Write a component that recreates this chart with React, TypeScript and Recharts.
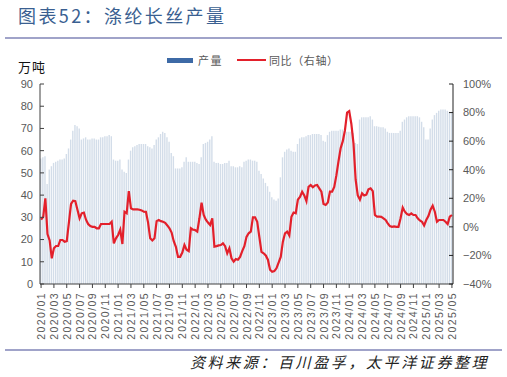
import React from "react";
import { ComposedChart, Bar, Line, XAxis, YAxis } from "recharts";

// months on the axis, 3 readings per month (last one only for 2025/05)
const months = [
  "2020/01", "2020/02", "2020/03", "2020/04", "2020/05", "2020/06", "2020/07", "2020/08", "2020/09", "2020/10", "2020/11", "2020/12",
  "2021/01", "2021/02", "2021/03", "2021/04", "2021/05", "2021/06", "2021/07", "2021/08", "2021/09", "2021/10", "2021/11", "2021/12",
  "2022/01", "2022/02", "2022/03", "2022/04", "2022/05", "2022/06", "2022/07", "2022/08", "2022/09", "2022/10", "2022/11", "2022/12",
  "2023/01", "2023/02", "2023/03", "2023/04", "2023/05", "2023/06", "2023/07", "2023/08", "2023/09", "2023/10", "2023/11", "2023/12",
  "2024/01", "2024/02", "2024/03", "2024/04", "2024/05", "2024/06", "2024/07", "2024/08", "2024/09", "2024/10", "2024/11", "2024/12",
  "2025/01", "2025/02", "2025/03", "2025/04", "2025/05",
];

// 产量, 万吨
const output = [
  56.5, 57, 57.5, 45, 51.5, 53, 54.5, 55, 55.5, 56, 56, 56.5, 58.5, 61, 65, 69, 71.5, 71,
  70, 65, 65.5, 66, 65, 65, 65.5, 65.5, 65, 65, 66, 66, 66.5, 66.5, 67, 66.5, 56, 55.5,
  55.5, 56, 51.5, 50.5, 50, 56, 60, 61.5, 62, 62.5, 63, 63, 63, 63, 62, 61.5, 61, 62.5,
  65, 66, 67.5, 68.5, 68, 66, 64, 59, 57.5, 52, 52, 52, 52.5, 55, 57, 55, 55, 55,
  55, 54.5, 54, 57, 63, 63.5, 64, 65, 66.5, 55, 54.5, 54.5, 54, 54, 54.5, 54.5, 55.5, 53,
  53, 52.5, 52.5, 53, 52.5, 55, 55.5, 56, 56, 55.5, 55.5, 55, 51, 49.5, 47.5, 45.5, 44, 41.5,
  39, 38, 37.5, 38.5, 48, 57, 59.5, 60.5, 61, 60, 59.5, 59.5, 63, 65.5, 66, 66, 66.5, 67,
  67, 67.5, 67.5, 67.5, 67.5, 67, 64.5, 64, 67, 68.5, 69, 69, 69, 69, 69.5, 69.5, 69, 68.5,
  68.5, 68.5, 68, 63.5, 63, 74, 75, 75, 75, 75, 75.5, 74, 71, 71, 70.8, 70.5, 70.5, 70,
  68.5, 68, 68, 68, 68, 68, 69, 73, 74, 75, 75.5, 75.5, 75.5, 75.5, 75.5, 75, 73, 70.5,
  65, 65, 70, 74, 76, 77, 78, 78.5, 78.5, 78.5, 78, 77.5, 77.5,
];

// 同比, %
const yoy = [
  5, 7, 20, -5, -9.5, -22, -15, -13.4, -13.4, -9.2, -9.2, -10.4, -10, 3, 16, 18.3, 18, 12,
  6, 9.5, 10, 5, 2, 0.5, 0, 0, -1, -1, 2, 2, 2, 2, 2, 3.6, -11.5, -8,
  -5.7, -2, -12, 10.6, 9.5, 25, 13, 12.2, 12.2, 12.2, 12, 11.5, 10.6, 10.5, 3, -8, -9.5, -8,
  4, 4.8, 4, 3.6, 2.8, 1, -1, -4, -10, -14, -21, -21, -18, -12.7, -16, -17, -1, -2,
  -2.2, -3.3, 6, 17, 8.3, 5, 3, 1.3, 6, -13.9, -13.5, -13, -12.7, -11.5, -13.5, -18.5, -15, -22,
  -24.4, -22.5, -23, -21, -17, -13.5, -7, -4.5, -3.3, 6.7, 6.7, 3.6, -7, -17.5, -18.5, -20, -23, -30,
  -31.4, -31, -29, -25, -21, -10.4, -4.5, -3.3, -6, 7, 10, 9.5, 19, 21, 24.6, 22, 18, 28,
  29.3, 27.7, 29, 29.3, 27, 24.6, 16, 15.3, 17, 24.6, 24.6, 28, 36, 46, 55, 60, 67.5, 80,
  81, 72, 58.5, 33, 22, 19, 23.5, 22, 22.5, 26.3, 27, 25, 8.3, 7.1, 7.1, 7, 6, 4.8,
  2.5, 0.5, 0, 0.3, 0, 0, 6, 13.5, 10.6, 9, 8.3, 9.5, 8.3, 8.3, 6, 4.5, 3.6, 1,
  4.8, 7.5, 12, 14.8, 10.6, 3.6, 4.8, 4.8, 4.8, 3.6, 2, 7.1, 8.3,
];

const leftTicks = [0, 10, 20, 30, 40, 50, 60, 70, 80, 90];
const rightTicks = [-40, -20, 0, 20, 40, 60, 80, 100];

const data = output.map((v, i) => ({ idx: i, output: v, yoy: yoy[i] }));

const numFont = "'Liberation Sans', Arial, sans-serif";
const cjkFont = "'Noto Sans CJK SC', sans-serif";
const gray = "#595959";
const axisColor = "#404040";

const XTick = (props: any) => {
  const { x, y, payload } = props;
  return (
    <text
      transform={`translate(${x},${y}) rotate(-90)`}
      textAnchor="end"
      dominantBaseline="central"
      fontSize={10.5}
      letterSpacing={1.4}
      fill={gray}
      fontFamily={numFont}
    >
      {months[Math.floor(payload.value / 3)]}
    </text>
  );
};

const pct = (v: number) => (v < 0 ? `\u2212${-v}%` : `${v}%`);

export default function App() {
  return (
    <div style={{ position: "absolute", left: 0, top: 0, width: 507, height: 377, background: "#fff" }}>
      <div style={{ position: "absolute", left: 18, top: 5, fontSize: 18, letterSpacing: 2.4, color: "#3A5F91", fontFamily: cjkFont, lineHeight: "20px" }}>
        图表52：涤纶长丝产量
      </div>
      <div style={{ position: "absolute", left: 5, top: 37, width: 497, height: 2, background: "#A0A3C9" }} />

      <div style={{ position: "absolute", left: 18, top: 60, fontSize: 13, letterSpacing: 1, color: "#111", fontFamily: cjkFont, lineHeight: "14px" }}>
        万吨
      </div>

      <div style={{ position: "absolute", left: 167, top: 58, width: 26, height: 5, background: "#3D6AA6" }} />
      <div style={{ position: "absolute", left: 198, top: 53, fontSize: 11, letterSpacing: 1.5, color: gray, fontFamily: cjkFont, lineHeight: "14px" }}>
        产量
      </div>
      <div style={{ position: "absolute", left: 237, top: 59, width: 29, height: 2, background: "#E3202B" }} />
      <div style={{ position: "absolute", left: 269, top: 53, fontSize: 11, letterSpacing: 0.6, color: gray, fontFamily: cjkFont, lineHeight: "14px" }}>
        同比（右轴）
      </div>

      <div style={{ position: "absolute", left: 0, top: 0 }}>
        <ComposedChart width={507} height={377} data={data} margin={{ top: 84, right: 0, bottom: 33, left: 0 }} barCategoryGap="30%">
          <XAxis
            dataKey="idx"
            type="category"
            interval={5}
            height={60}
            tick={<XTick />}
            tickSize={4}
            tickMargin={4}
            axisLine={{ stroke: axisColor }}
            tickLine={{ stroke: axisColor }}
          />
          <YAxis
            yAxisId="left"
            orientation="left"
            width={40}
            domain={[0, 90]}
            ticks={leftTicks}
            interval={0}
            tickSize={-4}
            tickMargin={11}
            tick={{ fontSize: 11, fill: gray, fontFamily: numFont }}
            axisLine={{ stroke: axisColor }}
            tickLine={{ stroke: axisColor }}
          />
          <YAxis
            yAxisId="right"
            orientation="right"
            width={54}
            domain={[-40, 100]}
            ticks={rightTicks}
            interval={0}
            tickSize={-4}
            tickMargin={14}
            tickFormatter={pct}
            tick={{ fontSize: 11, fill: gray, fontFamily: numFont, textAnchor: "start" }}
            axisLine={{ stroke: "#222" }}
            tickLine={{ stroke: "#222" }}
          />
          <Bar yAxisId="left" dataKey="output" fill="#D3DDE9" barSize={1.4} isAnimationActive={false} />
          <Line yAxisId="right" dataKey="yoy" stroke="#E3202B" strokeWidth={2.2} dot={false} type="linear" isAnimationActive={false} />
        </ComposedChart>
      </div>

      <div style={{ position: "absolute", left: 5, top: 349, width: 497, height: 2, background: "#A0A3C9" }} />
      <div style={{ position: "absolute", left: 190, top: 354, fontSize: 15, letterSpacing: 2.6, fontStyle: "italic", color: "#222", fontFamily: cjkFont, lineHeight: "16px" }}>
        资料来源：百川盈孚，太平洋证券整理
      </div>
    </div>
  );
}
